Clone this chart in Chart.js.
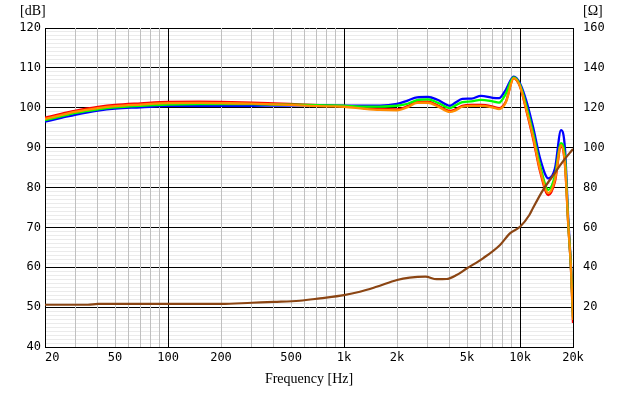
<!DOCTYPE html>
<html><head><meta charset="utf-8">
<script src="https://cdn.jsdelivr.net/npm/chart.js@4/dist/chart.umd.min.js"></script>
<style>html,body{margin:0;padding:0;background:#fff}#wrap{width:620px;height:396px}</style>
</head><body><div id="wrap"><canvas id="c" width="620" height="396"></canvas></div>
<script>
const freqs = [20,25,30,40,50,70,100,150,200,300,400,600,800,1000,1300,1600,2000,2300,2600,3000,3400,4000,4300,4700,5300,6000,7000,7600,8300,9200,10000,10900,11900,13000,14500,15800,17100,18000,18800,19500,20000];
const splRed =    [97.5,98.5,99.3,100.2,100.7,101.1,101.45,101.5,101.45,101.3,101.1,100.8,100.6,100.45,100.0,99.7,99.6,100.4,101.5,101.5,100.6,99.2,99.6,100.5,100.7,100.7,100.3,99.9,101.5,107.4,105.3,99.0,92.0,84.0,78.1,81.5,90.3,85.7,70.6,59.0,46.0];
const splOrange = [97.2,98.2,99.0,99.9,100.4,100.8,101.15,101.2,101.15,101.05,100.85,100.55,100.35,100.25,99.75,99.45,99.35,100.15,101.25,101.25,100.35,98.95,99.35,100.25,100.45,100.45,100.05,99.65,101.3,107.4,105.4,99.3,92.5,84.5,78.6,82.0,90.6,86.0,70.8,59.2,46.8];
const splGreen =  [96.9,97.9,98.7,99.6,100.1,100.5,100.8,100.9,100.9,100.9,100.8,100.7,100.6,100.5,100.3,100.3,100.5,101.0,101.9,102.1,101.3,99.9,100.6,101.4,101.6,102.0,101.6,101.3,103.5,107.6,105.7,100.2,93.4,85.6,79.4,83.0,91.1,87.5,71.0,59.5,47.5];
const splBlue =   [96.5,97.5,98.3,99.3,99.8,100.1,100.45,100.5,100.5,100.5,100.55,100.6,100.6,100.5,100.5,100.5,100.95,101.8,102.6,102.7,102.0,100.5,101.3,102.2,102.3,103.0,102.5,102.4,104.5,107.8,106.1,101.5,94.9,87.3,82.3,84.8,94.4,89.8,72.0,60.0,49.0];
const impFreqs = [20,35,40,100,200,300,400,560,730,1000,1230,1530,2000,2360,2900,3360,3820,4360,5000,6160,7700,8760,10000,11300,11850,13500,15400,17500,20000];
const impOhm =   [21.2,21.2,21.6,21.6,21.6,22.2,22.6,23.2,24.4,26.0,27.7,30.2,33.6,34.8,35.3,34.0,34.1,36.1,39.5,44.5,51.2,57.0,60.3,66.2,69.7,78.7,86.0,93.0,99.3];
const xGridTicks = [20,30,40,50,60,70,80,90,100,200,300,400,500,600,700,800,900,1000,2000,3000,4000,5000,6000,7000,8000,9000,10000,20000];
const xLabels = {20:'  20',50:'50',100:'100',200:'200',500:'500',1000:'1k',2000:'2k',5000:'5k',10000:'10k',20000:'20k'};

const pts = (xs, ys) => xs.map((x, i) => ({x: x, y: ys[i]}));
const tickFont = {family: "'DejaVu Sans Mono', monospace", size: 12};

const bgPlugin = {
  id: 'bg',
  beforeDraw(chart) {
    const ctx = chart.ctx;
    ctx.save(); ctx.fillStyle = '#fff'; ctx.fillRect(0, 0, chart.width, chart.height); ctx.restore();
  },
  afterDraw(chart) {
    const ctx = chart.ctx;
    ctx.save();
    ctx.fillStyle = '#000';
    ctx.font = "14px 'Liberation Serif', serif";
    ctx.textBaseline = 'middle';
    ctx.textAlign = 'left';
    ctx.fillText('[dB]', 20, 11);
    ctx.fillText('[\u03A9]', 583, 11);
    ctx.restore();
  }
};

const ds = (label, data, color, w, axis) => ({
  label, data: data, borderColor: color, backgroundColor: color, borderWidth: w,
  pointRadius: 0, showLine: true, yAxisID: axis, cubicInterpolationMode: 'monotone', fill: false
});

new Chart(document.getElementById('c'), {
  type: 'scatter',
  data: {
    datasets: [
      ds('Impedance', pts(impFreqs, impOhm), '#8b4513', 2.2, 'y2'),
      ds('Orange', pts(freqs, splOrange), '#ff8c00', 2.3, 'y'),
      ds('Green', pts(freqs, splGreen), '#00ff00', 2.3, 'y'),
      ds('Blue', pts(freqs, splBlue), '#0000ff', 2.3, 'y'),
      ds('Red', pts(freqs, splRed), '#ff0000', 2.3, 'y')
    ]
  },
  options: {
    responsive: false, animation: false, devicePixelRatio: 1,
    layout: {padding: {top: 28, left: 0, right: 0, bottom: 0}},
    plugins: {legend: {display: false}, tooltip: {enabled: false}},
    scales: {
      x: {
        type: 'logarithmic', min: 20, max: 20000, position: 'bottom',
        afterBuildTicks(s) { s.ticks = xGridTicks.map(v => ({value: v})); },
        afterFit(s) { s.height = 49; },
        ticks: {autoSkip: false, maxRotation: 0, padding: 4, color: '#000', font: tickFont,
          callback(v) { return xLabels[v] !== undefined ? xLabels[v] : ''; }},
        grid: {drawTicks: false, lineWidth: 1, z: -2,
          color(c) { const v = c.tick && c.tick.value; return (v === 20 || v === 100 || v === 1000 || v === 10000 || v === 20000) ? '#000' : '#c0c0c0'; }},
        border: {color: '#000'},
        title: {display: true, text: 'Frequency [Hz]', color: '#000', font: {family: "'Liberation Serif', serif", size: 14}, padding: {top: 2, bottom: 8}}
      },
      y: {
        position: 'left', min: 40, max: 120,
        afterBuildTicks(s) { const t = []; for (let v = 40; v <= 120; v++) t.push({value: v}); s.ticks = t; },
        afterFit(s) { s.width = 45; },
        ticks: {autoSkip: false, padding: 4, color: '#000', font: tickFont,
          callback(v) { return v % 10 === 0 ? String(v) : ''; }},
        grid: {drawTicks: false, lineWidth: 1, z: -4,
          color(c) { const v = c.tick && c.tick.value; return v % 10 === 0 ? '#000' : '#ebebeb'; }},
        border: {color: '#000'}
      },
      y2: {
        position: 'right', min: 0, max: 160,
        afterBuildTicks(s) { const t = []; for (let v = 0; v <= 160; v += 20) t.push({value: v}); s.ticks = t; },
        afterFit(s) { s.width = 47; },
        ticks: {autoSkip: false, padding: 10, color: '#000', font: tickFont,
          callback(v) { return v === 0 ? '' : String(v); }},
        grid: {display: false, drawTicks: false, z: -5},
        border: {display: false}
      }
    }
  },
  plugins: [bgPlugin]
});
</script></body></html>
